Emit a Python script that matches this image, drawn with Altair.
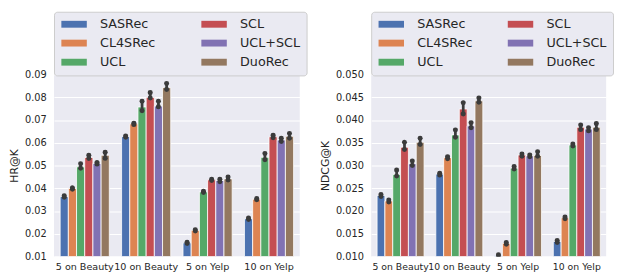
import altair as alt
import pandas as pd

groups = ["5 on Beauty", "10 on Beauty", "5 on Yelp", "10 on Yelp"]
methods = ["SASRec", "CL4SRec", "UCL", "SCL", "UCL+SCL", "DuoRec"]
colors = ["#4C72B0", "#DD8452", "#55A868", "#C44E52", "#8172B3", "#937860"]

# HR@K: value per group for each method, and error-bar bounds
hr_val = {
    "SASRec":  [0.0363, 0.0627, 0.0160, 0.0266],
    "CL4SRec": [0.0399, 0.0683, 0.0215, 0.0352],
    "UCL":     [0.0494, 0.0757, 0.0384, 0.0536],
    "SCL":     [0.0535, 0.0799, 0.0437, 0.0626],
    "UCL+SCL": [0.0509, 0.0761, 0.0434, 0.0612],
    "DuoRec":  [0.0545, 0.0842, 0.0441, 0.0628],
}
hr_lo = {
    "SASRec":  [0.0360, 0.0624, 0.0157, 0.0263],
    "CL4SRec": [0.0396, 0.0680, 0.0212, 0.0349],
    "UCL":     [0.0488, 0.0740, 0.0381, 0.0525],
    "SCL":     [0.0531, 0.0796, 0.0434, 0.0622],
    "UCL+SCL": [0.0506, 0.0758, 0.0428, 0.0605],
    "DuoRec":  [0.0532, 0.0834, 0.0436, 0.0620],
}
hr_hi = {
    "SASRec":  [0.0367, 0.0630, 0.0163, 0.0269],
    "CL4SRec": [0.0402, 0.0686, 0.0218, 0.0355],
    "UCL":     [0.0508, 0.0782, 0.0387, 0.0553],
    "SCL":     [0.0545, 0.0821, 0.0440, 0.0633],
    "UCL+SCL": [0.0513, 0.0782, 0.0440, 0.0620],
    "DuoRec":  [0.0558, 0.0860, 0.0449, 0.0640],
}

# NDCG@K
nd_val = {
    "SASRec":  [0.0234, 0.0281, 0.0102, 0.0133],
    "CL4SRec": [0.0222, 0.0317, 0.0129, 0.0185],
    "UCL":     [0.0280, 0.0367, 0.0294, 0.0345],
    "SCL":     [0.0340, 0.0424, 0.0323, 0.0384],
    "UCL+SCL": [0.0304, 0.0387, 0.0321, 0.0380],
    "DuoRec":  [0.0351, 0.0442, 0.0322, 0.0384],
}
nd_lo = {
    "SASRec":  [0.0232, 0.0279, 0.0100, 0.0131],
    "CL4SRec": [0.0220, 0.0315, 0.0127, 0.0183],
    "UCL":     [0.0277, 0.0362, 0.0292, 0.0343],
    "SCL":     [0.0335, 0.0413, 0.0320, 0.0379],
    "UCL+SCL": [0.0300, 0.0383, 0.0319, 0.0376],
    "DuoRec":  [0.0346, 0.0439, 0.0320, 0.0379],
}
nd_hi = {
    "SASRec":  [0.0236, 0.0283, 0.0104, 0.0135],
    "CL4SRec": [0.0224, 0.0319, 0.0131, 0.0187],
    "UCL":     [0.0290, 0.0378, 0.0298, 0.0347],
    "SCL":     [0.0351, 0.0438, 0.0325, 0.0389],
    "UCL+SCL": [0.0310, 0.0394, 0.0323, 0.0383],
    "DuoRec":  [0.0360, 0.0448, 0.0330, 0.0392],
}

hr_ticks = [0.01, 0.02, 0.03, 0.04, 0.05, 0.06, 0.07, 0.08, 0.09]
nd_ticks = [0.010, 0.015, 0.020, 0.025, 0.030, 0.035, 0.040, 0.045, 0.050]


def make_df(val, lo, hi):
    rows = []
    for m in methods:
        for i, g in enumerate(groups):
            rows.append({"group": g, "method": m, "value": val[m][i],
                         "lo": lo[m][i], "hi": hi[m][i]})
    return pd.DataFrame(rows)


def ends_df(df):
    a = df[["group", "method", "lo"]].rename(columns={"lo": "end"})
    b = df[["group", "method", "hi"]].rename(columns={"hi": "end"})
    return pd.concat([a, b], ignore_index=True)


LEG_PATH = "M-1,-0.7H4.2V0.7H-1Z"
TXT = "#262626"
ERR = "#3b3b3b"


def panel(df, ytitle, ticks, fmt, width, height, legend_y, col_pad, xfont):
    domain = [ticks[0], ticks[-1]]
    xscale = alt.Scale(paddingInner=0.2, paddingOuter=0.1)
    xaxis = alt.Axis(labelAngle=0, labelOverlap=False, labelPadding=5,
                     labelFontSize=xfont, grid=False)
    yaxis = alt.Axis(values=ticks, format=fmt, labelFontSize=10,
                     labelOverlap=False, labelFlush=False,
                     titleFontSize=11, labelPadding=8, titlePadding=5,
                     titleFontWeight="normal")
    xo = alt.XOffset("method:N", sort=methods, scale=alt.Scale(paddingInner=0, paddingOuter=0))
    yscale = alt.Scale(domain=domain, clamp=True, nice=False, zero=False)
    xenc = alt.X("group:N", sort=groups, title=None, scale=xscale, axis=xaxis)
    bars = alt.Chart(df).mark_bar(stroke="white", strokeWidth=0.8, clip=True).encode(
        x=xenc, xOffset=xo,
        y=alt.Y("value:Q", scale=yscale, title=ytitle, axis=yaxis),
        y2=alt.Y2(datum=0),
        color=alt.Color("method:N",
                        scale=alt.Scale(domain=methods, range=colors),
                        legend=alt.Legend(orient="none", legendX=0, legendY=legend_y,
                                          title=None, columns=2, direction="vertical",
                                          symbolType=LEG_PATH, symbolSize=100,
                                          symbolStrokeWidth=0, symbolOpacity=1,
                                          labelFontSize=13, labelColor=TXT,
                                          labelOffset=28, rowPadding=5.5,
                                          columnPadding=col_pad, padding=6,
                                          fillColor="#EAEAF2", strokeColor="#CCCCCC",
                                          cornerRadius=3)),
    )
    rules = alt.Chart(df).mark_rule(color=ERR, strokeWidth=2.8, clip=True).encode(
        x=xenc, xOffset=xo,
        y=alt.Y("lo:Q", scale=yscale, title=ytitle, axis=yaxis), y2="hi:Q",
    )
    dots = alt.Chart(ends_df(df)).mark_circle(color=ERR, size=26, opacity=1, clip=True).encode(
        x=xenc, xOffset=xo,
        y=alt.Y("end:Q", scale=yscale, title=ytitle, axis=yaxis),
    )
    return alt.layer(bars, rules, dots).properties(width=width, height=height)


left = panel(make_df(hr_val, hr_lo, hr_hi), "HR@K", hr_ticks, ".2f", 251, 186, -64, 45, 9.8)
right = panel(make_df(nd_val, nd_lo, nd_hi), "NDCG@K", nd_ticks, ".3f", 240, 186, -64, 34, 9.5)

chart = alt.hconcat(left, right, spacing=12).resolve_scale(
    color="independent", x="independent", y="independent", xOffset="independent"
).properties(
    padding={"left": 0, "top": 0, "right": 0, "bottom": 0}
).configure(
    font="DejaVu Sans"
).configure_view(
    fill="#EAEAF2", stroke=None
).configure_axis(
    domain=False, ticks=False, gridColor="white", gridWidth=1.1,
    labelColor=TXT, titleColor=TXT, labelFont="DejaVu Sans", titleFont="DejaVu Sans"
).configure_legend(
    labelFont="DejaVu Sans"
)

chart.save("out.html", embed_options={"renderer": "svg", "actions": False})
